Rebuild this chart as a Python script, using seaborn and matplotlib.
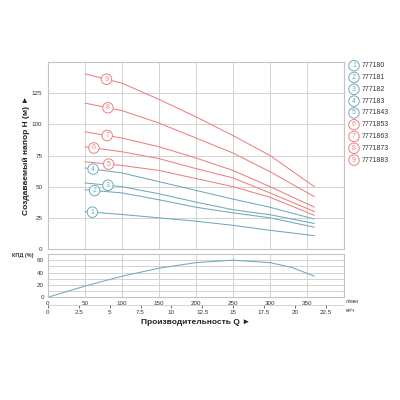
import numpy as np
import pandas as pd
import matplotlib
matplotlib.use("Agg")
import matplotlib.pyplot as plt
import seaborn as sns

# data
q_head = [50, 100, 150, 200, 250, 300, 360]          # л/мин
h1 = [30, 27.7, 25, 22.3, 19, 15, 10.7]
h2 = [47.5, 45, 39.5, 33.5, 29, 25, 17.5]
h3 = [53, 50, 44.3, 37.6, 31.5, 27.5, 20.5]
h4 = [65, 61, 54, 47, 40, 33.5, 24]
h5 = [70, 67, 63, 56.5, 50, 41.5, 27]
h6 = [82, 78, 72.5, 64.5, 57, 45, 30]
h7 = [94, 89, 82, 73, 63, 50, 33.5]
h8 = [117, 111, 101, 89, 77, 62, 42]
h9 = [140.5, 133, 120, 106, 91, 75, 50]
heads = [h1, h2, h3, h4, h5, h6, h7, h8, h9]
models = ["777180", "777181", "777182", "777183", "7771843",
          "7771853", "7771863", "7771873", "7771883"]
label_q = [60, 63, 81, 61, 82, 62, 80, 81, 79]

q_eff = [0, 50, 100, 150, 200, 250, 300, 330, 360]
eff = [0, 18, 34, 47, 56, 60, 56, 48, 34]

blue = "#6fa9bd"
red = "#ef7f7f"
# curve 5 is drawn red, but listed blue in the legend
curve_colors = [blue, blue, blue, blue, red, red, red, red, red]
legend_colors = [blue, blue, blue, blue, blue, red, red, red, red]

sns.set_style("white")
plt.rcParams['font.family'] = ['Liberation Sans', 'DejaVu Sans']
grid_c = "#d2d2d2"
spine_c = "#c4c4c4"

fig = plt.figure(figsize=(4, 4), dpi=100)
ax = fig.add_axes([0.12, 0.3775, 0.74, 0.4675])
ax2 = fig.add_axes([0.12, 0.257, 0.74, 0.108])

# head curves
rows = []
for i, h in enumerate(heads):
    for q, v in zip(q_head, h):
        rows.append({"Q": q, "H": v, "n": str(i + 1)})
df = pd.DataFrame(rows)
sns.lineplot(data=df, x="Q", y="H", hue="n", palette=curve_colors, lw=0.75,
             legend=False, ax=ax, sort=False)

for i, h in enumerate(heads):
    yq = np.interp(label_q[i], q_head, h)
    ax.text(label_q[i], yq, str(i + 1), color=curve_colors[i], fontsize=5,
            ha="center", va="center", zorder=5,
            bbox=dict(boxstyle="circle,pad=0.25", fc="white", ec=curve_colors[i], lw=0.7))

ax.set_xlim(0, 400)
ax.set_ylim(0, 150)
ax.set_xticks(range(0, 401, 50))
ax.set_yticks(range(0, 126, 25))
ax.set_xticklabels([])
ax.grid(True, color=grid_c, lw=0.7)
ax.tick_params(length=0, labelsize=4.5, pad=4, colors="#333333")
for s in ax.spines.values():
    s.set_color(spine_c)
    s.set_linewidth(0.8)
ax.set_xlabel("")
ax.set_ylabel("Создаваемый напор H (м) ►", fontsize=6, fontweight="bold",
              color="#222222")
ax.yaxis.set_label_coords(-0.06, 0.5)

# legend on the right
for i, m in enumerate(models):
    y = 1 - (65.7 + 11.8 * i) / 400
    fig.text(354 / 400, y, str(i + 1), color=legend_colors[i],
             fontsize=5, ha="center", va="center",
             bbox=dict(boxstyle="circle,pad=0.25", fc="white",
                       ec=legend_colors[i], lw=0.7))
    fig.text(362 / 400, y, m, fontsize=5, ha="left", va="center", color="#333333")

# efficiency curve
sns.lineplot(x=q_eff, y=eff, color=blue, lw=0.75, ax=ax2)
ax2.set_xlim(0, 400)
ax2.set_ylim(0, 70)
ax2.set_xticks(range(0, 351, 50))
ax2.set_yticks(range(0, 61, 20))
ax2.set_yticks(range(0, 71, 10), minor=True)
ax2.grid(True, which="both", color=grid_c, lw=0.7)
ax2.tick_params(which="both", length=0, labelsize=4.5, pad=3, colors="#333333")
for s in ax2.spines.values():
    s.set_color(spine_c)
    s.set_linewidth(0.8)

sec = ax2.secondary_xaxis(-0.17, functions=(lambda q: q * 0.06, lambda m: m / 0.06))
sec.set_xticks([0, 2.5, 5, 7.5, 10, 12.5, 15, 17.5, 20, 22.5])
sec.set_xticklabels(["0", "2.5", "5", "7.5", "10", "12.5", "15", "17.5", "20", "22.5"])
sec.tick_params(length=2, width=0.5, labelsize=4.5, pad=2, colors="#333333")
sec.spines["bottom"].set_color(spine_c)
sec.spines["bottom"].set_linewidth(0.5)

fig.text(346 / 400, 1 - 301.5 / 400, "л/мин", fontsize=3.5, ha="left", va="center", color="#333333")
fig.text(346 / 400, 1 - 311 / 400, "м³/ч", fontsize=3.5, ha="left", va="center", color="#333333")
fig.text(23 / 400, 1 - 256 / 400, "КПД (%)", fontsize=4, ha="center", va="center",
         color="#333333", fontweight="bold")
fig.text(196 / 400, 1 - 323 / 400, "Производительность Q ►", fontsize=6,
         ha="center", va="center", fontweight="bold", color="#222222")

fig.savefig("out.png", dpi=100)
